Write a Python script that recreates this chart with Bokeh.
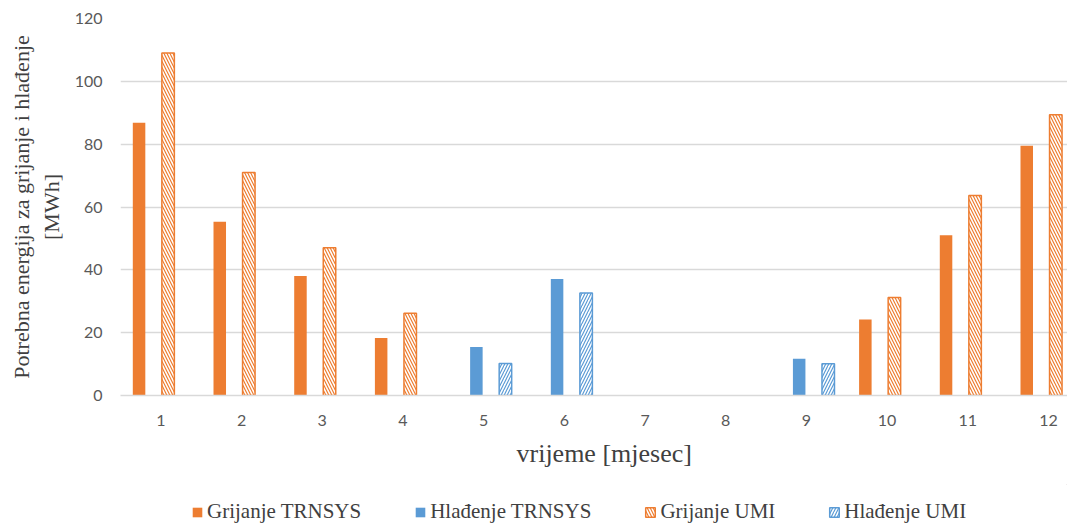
from bokeh.plotting import figure
from bokeh.layouts import column
from bokeh.models import Range1d, FixedTicker, Legend, LegendItem, ColumnDataSource, Title
from bokeh.embed import file_html
from bokeh.resources import INLINE

months = list(range(1, 13))
grijanje_trnsys = [86.8, 55.3, 38.0, 18.3, None, None, None, None, None, 24.2, 51.0, 79.5]
hladenje_trnsys = [None, None, None, None, 15.4, 37.1, None, None, 11.7, None, None, None]
grijanje_umi = [109.0, 71.0, 47.0, 26.2, None, None, None, None, None, 31.2, 63.7, 89.4]
hladenje_umi = [None, None, None, None, 10.2, 32.6, None, None, 10.1, None, None, None]
series_names = ["Grijanje TRNSYS", "Hlađenje TRNSYS", "Grijanje UMI", "Hlađenje UMI"]
y_ticks = [0, 20, 40, 60, 80, 100, 120]
x_title = "vrijeme [mjesec]"
y_title = "Potrebna energija za grijanje i hlađenje\n[MWh]"

ORANGE = "#ED7D31"
BLUE = "#5B9BD5"

p = figure(width=1067, height=484, output_backend="svg", toolbar_location=None,
           x_range=Range1d(0.5, 12.235), y_range=Range1d(0, 120),
           min_border_left=120, min_border_right=0, min_border_top=18, min_border_bottom=89)
p.outline_line_color = None
p.xgrid.grid_line_color = None
p.ygrid.grid_line_color = "#d9d9d9"
p.ygrid.grid_line_width = 1.3

p.yaxis.ticker = FixedTicker(ticks=y_ticks)
p.xaxis.ticker = FixedTicker(ticks=months)
for ax in (p.xaxis, p.yaxis):
    ax.major_tick_line_color = None
    ax.minor_tick_line_color = None
    ax.major_tick_out = 0
    ax.major_tick_in = 0
    ax.major_label_text_font = "Lato"
    ax.major_label_text_font_size = "16px"
    ax.major_label_text_color = "#595959"
    ax.axis_label_text_font = "Liberation Serif"
    ax.axis_label_text_font_style = "normal"
    ax.axis_label_text_color = "#404040"
p.yaxis.axis_label_text_font_size = "22px"
p.yaxis.axis_line_color = None
p.xaxis.axis_line_color = "#d9d9d9"
p.xaxis.axis_line_width = 1.3
p.yaxis.major_label_standoff = 18
p.xaxis.major_label_standoff = 19
p.yaxis.axis_label = y_title
p.yaxis.axis_label_standoff = 8

# x-axis title, placed as a title below the tick labels
xt = Title(text=x_title, align="left", offset=396, standoff=17,
           text_font="Liberation Serif", text_font_size="26px",
           text_font_style="normal", text_color="#404040")
p.add_layout(xt, "below")

offsets = [-0.27, -0.09, 0.09, 0.27]
bw = 0.155
data = [grijanje_trnsys, hladenje_trnsys, grijanje_umi, hladenje_umi]
styles = [
    dict(fill_color=ORANGE, line_color=None),
    dict(fill_color=BLUE, line_color=None),
    dict(fill_color="white", line_color=ORANGE, line_width=1.5,
         hatch_pattern="\\", hatch_color=ORANGE, hatch_scale=6, hatch_weight=1.2),
    dict(fill_color="white", line_color=BLUE, line_width=1.5,
         hatch_pattern="/", hatch_color=BLUE, hatch_scale=6, hatch_weight=1.2),
]

# legend strip below the chart (proxy renderers sit outside its visible range)
pl = figure(width=1067, height=40, output_backend="svg", toolbar_location=None,
            x_range=Range1d(0, 1), y_range=Range1d(0, 1),
            x_axis_location=None, y_axis_location=None, min_border=0)
pl.outline_line_color = None
pl.xgrid.grid_line_color = None
pl.ygrid.grid_line_color = None

items = []
for name, vals, off, st in zip(series_names, data, offsets, styles):
    xs = [m + off for m, v in zip(months, vals) if v is not None]
    ys = [v for v in vals if v is not None]
    src = ColumnDataSource(dict(x=xs, top=ys))
    p.vbar(x="x", top="top", bottom=0, width=bw, source=src, **st)
    proxy = pl.vbar(x=[3.0], top=[4.0], bottom=[3.0], width=bw, **st)
    items.append(LegendItem(label=name, renderers=[proxy]))

legend = Legend(items=items, orientation="horizontal", location=(71, 0),
                glyph_width=12, glyph_height=12, label_standoff=4, spacing=53,
                padding=0, margin=0, border_line_color=None, background_fill_alpha=0,
                label_text_font="Liberation Serif", label_text_font_size="21px",
                label_text_color="#404040")
pl.add_layout(legend, "center")

layout = column(p, pl, spacing=0)
open("out.html", "w").write(file_html(layout, INLINE))
